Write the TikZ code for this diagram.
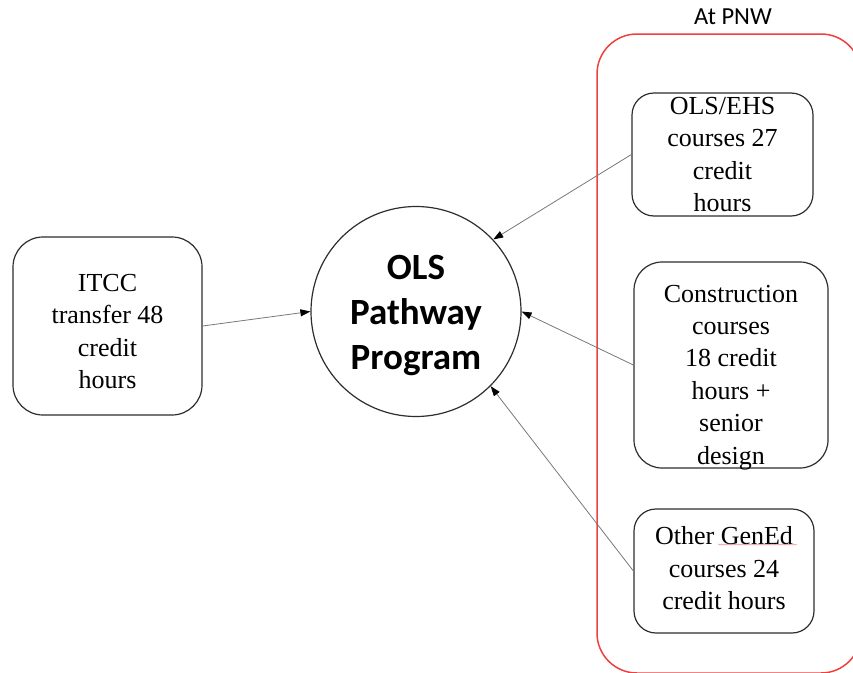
\documentclass[tikz,border=0pt]{standalone}
\usepackage{fontspec}
\setmainfont{Liberation Serif}
\newfontfamily\calibri{Carlito}
\usetikzlibrary{arrows.meta,decorations.pathmorphing}

\definecolor{pnwred}{RGB}{238,64,64}
\definecolor{boxline}{RGB}{45,45,45}
\definecolor{linkgray}{RGB}{120,120,120}

\begin{document}
\begin{tikzpicture}[x=1pt,y=-1pt,
    box/.style={draw=boxline, line width=1.2pt, rounded corners=22pt, align=center,
        inner sep=0pt, font=\fontsize{26}{32.4}\selectfont},
    link/.style={draw=linkgray, line width=0.8pt, -{Triangle[length=10pt,width=7pt,fill=black,color=black]}}]

    \useasboundingbox (0,0) rectangle (853,672);
    \clip (0,0) rectangle (853,672);

    \node[draw=pnwred, line width=1.5pt, rounded corners=40pt, minimum width=264pt, minimum height=639pt] (pnw) at (729,353.5) {};
    \node[font=\calibri\fontsize{24.5}{29}\selectfont] (pnwlabel) at (733,17) {At PNW};

    \node[circle, draw=boxline, line width=1.2pt, minimum size=210pt, inner sep=0pt, align=center,
        font=\calibri\bfseries\fontsize{37}{45}\selectfont] (ols) at (416,311.5) {\rule{0pt}{32pt}OLS\\Pathway\\Program};

    \node[box, rounded corners=30pt, minimum width=189pt, minimum height=178pt] (itcc) at (107.5,326) {\rule{0pt}{28pt}ITCC\\transfer 48\\credit\\hours};
    \node[box, minimum width=181pt, minimum height=123pt] (ehs) at (722.5,154.5) {OLS/EHS\\courses 27\\credit\\hours};
    \node[box, rounded corners=28pt, minimum width=194pt, minimum height=206pt] (constr) at (731,365) {\rule{0pt}{36pt}Construction\\courses\\18 credit\\hours +\\senior\\\smash{design}};
    \node[box, minimum width=180pt, minimum height=124pt] (gened) at (724,571) {Other GenEd\\courses 24\\credit hours\rule[-6pt]{0pt}{0pt}};

    \draw[pnwred!60, line width=0.5pt, decorate, decoration={snake, amplitude=0.6pt, segment length=2.5pt}]
        ([shift={(-6,-26.5)}]gened.center) -- ([shift={(73,-26.5)}]gened.center);

    \draw[link] (itcc.east) -- (ols.west);
    \draw[link] (ehs.west) -- (ols.43);
    \draw[link] (constr.west) -- (ols.east);
    \draw[link] (gened.west) -- (ols.-45);

\end{tikzpicture}
\end{document}
